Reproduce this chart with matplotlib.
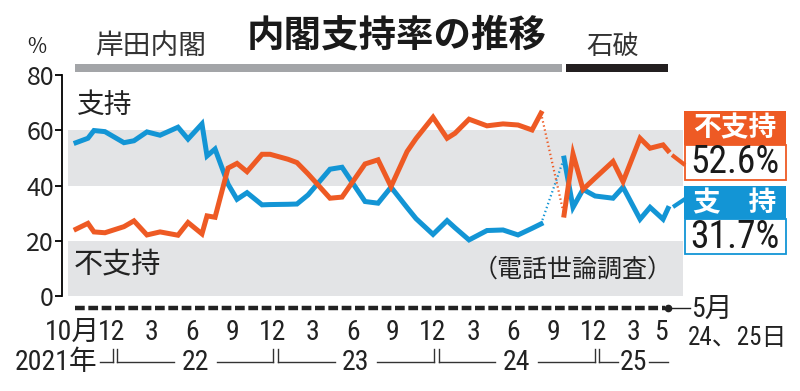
import os
import matplotlib
matplotlib.use("Agg")
import matplotlib.pyplot as plt
from matplotlib import font_manager
from matplotlib.transforms import blended_transform_factory
from matplotlib.patches import Rectangle
from matplotlib.lines import Line2D

plt.rcParams['font.family'] = ['Noto Sans CJK JP', 'DejaVu Sans']
plt.rcParams['lines.scale_dashes'] = False

# look for a condensed font for the digits
pref = ['liberationsansnarrow-regular', 'robotocondensed-regular', 'dejavusanscondensed.',
        'opensans_condensed-regular', 'notosans-condensed.', 'notosans-condensed']
entries = font_manager.fontManager.ttflist
narrow = None
for p in pref:
    for f in entries:
        if os.path.basename(f.fname).lower().startswith(p):
            narrow = f
            break
    if narrow:
        break

if narrow is not None:
    NFAM = [narrow.name, 'Noto Sans CJK JP']
    NST = narrow.stretch
    NS = 1.0
else:
    NFAM = ['Noto Sans CJK JP', 'DejaVu Sans']
    NST = 'normal'
    NS = 0.87

# ---- data (x = months since Oct 2021) ----
months = [-0.67, 0.22, 0.67, 1.49, 2.91, 3.66, 4.63, 5.61, 6.95, 7.70,
          8.74, 9.12, 9.72, 10.69, 11.36, 12.11, 13.23, 13.83, 15.17, 15.84,
          16.67, 18.31, 19.21, 20.93, 21.90, 22.87, 24.07, 24.74, 26.01, 27.06,
          27.65, 28.70, 30.04, 31.24, 32.36, 33.41, 34.08,
          35.80, 36.47, 37.22, 38.12, 39.46, 40.21, 41.48, 42.23, 43.20, 43.57]
support = [55.5, 57.1, 59.9, 59.5, 55.5, 56.2, 59.4, 58.2, 61.1, 56.8,
           62.3, 50.7, 53.2, 40.5, 35.0, 37.4, 33.0, 33.1, 33.2, 33.3,
           36.6, 45.9, 46.6, 34.2, 33.6, 39.4, 32.0, 28.0, 22.3, 27.3,
           24.7, 20.3, 23.7, 23.9, 22.1, 24.5, 26.1,
           49.9, 32.1, 38.6, 36.2, 35.4, 39.4, 27.8, 32.1, 27.8, 31.7]
disapprove = [24.2, 26.3, 23.2, 22.9, 25.1, 27.2, 22.1, 23.2, 22.0, 26.6,
              22.5, 29.0, 28.5, 46.3, 48.0, 45.0, 51.3, 51.3, 49.5, 48.3,
              44.2, 35.4, 35.8, 47.8, 49.3, 39.6, 52.3, 57.0, 64.7, 57.1,
              58.9, 64.0, 61.6, 62.3, 61.9, 60.1, 66.2,
              29.3, 51.4, 38.6, 42.7, 48.7, 41.4, 57.1, 53.5, 54.7, 52.6]
n_kishida = 37  # first Ishiba poll index

tick_pos = [2, 5, 8, 11, 14, 17, 20, 23, 26, 29, 32, 35, 38, 41, 43]
tick_lab = ['12', '3', '6', '9', '12', '3', '6', '9', '12', '3', '6', '9', '12', '3', '5']
year_bounds = [2.25, 14.25, 26.25, 38.25]
year_labels = ['22', '23', '24', '25']

BLUE = '#1395d5'
RED = '#ee5a24'
BAND = '#e3e4e6'
TXT = '#222222'

W, H = 800, 391
fig = plt.figure(figsize=(8, 3.91), dpi=100)

def fx(px):
    return px / W

def fy(py):
    return 1 - py / H

def ntext(x, y, s, size, transform=None, **kw):
    kw.setdefault('color', TXT)
    kw.setdefault('va', 'center')
    if transform is None:
        transform = fig.transFigure
    return fig.text(x, y, s, fontsize=size * NS, family=NFAM, stretch=NST,
                    transform=transform, **kw)

ax = fig.add_axes([fx(68), fy(296), 615 / W, 221 / H])
ax.set_xlim(-1.27, 44.69)
ax.set_ylim(0, 80)
ax.axhspan(0, 20, color=BAND, lw=0, zorder=0)
ax.axhspan(40, 60, color=BAND, lw=0, zorder=0)
for s in ['top', 'right', 'bottom']:
    ax.spines[s].set_visible(False)
ax.spines['left'].set_position(('outward', 4))
ax.spines['left'].set_linewidth(1.3)
ax.set_xticks([])
ax.set_yticks([0, 20, 40, 60, 80])
ax.tick_params(axis='y', direction='out', length=5, width=1.3, pad=1,
               labelsize=18, labelcolor=TXT)

k = n_kishida
lw = 3.6
ax.plot(months[:k], support[:k], color=BLUE, lw=lw, solid_joinstyle='miter', zorder=3)
ax.plot(months[:k], disapprove[:k], color=RED, lw=lw, solid_joinstyle='miter', zorder=3)
ax.plot(months[k:], support[k:], color=BLUE, lw=lw, solid_joinstyle='miter', zorder=3)
ax.plot(months[k:], disapprove[k:], color=RED, lw=lw, solid_joinstyle='miter', zorder=4)
ax.plot(months[k - 1:k + 1], support[k - 1:k + 1], color=BLUE, lw=1.6, ls=(0, (1, 2)), zorder=3)
ax.plot(months[k - 1:k + 1], disapprove[k - 1:k + 1], color=RED, lw=1.6, ls=(0, (1, 2)), zorder=3)

# x axis (dashed month line)
bt = blended_transform_factory(ax.transData, fig.transFigure)
ax.add_line(Line2D([-0.75, 42.95], [fy(308), fy(308)], transform=bt, color=TXT,
                   lw=3.2, dashes=(7.0, 2.6), clip_on=False))
ax.add_line(Line2D([43.15, 43.35], [fy(308), fy(308)], transform=bt, color=TXT,
                   lw=3.2, clip_on=False, solid_capstyle='butt'))
ax.plot([months[-1]], [fy(308)], 'o', color=TXT, ms=4.5, transform=bt, clip_on=False)
ax.add_line(Line2D([months[-1], 45.2], [fy(308), fy(308)], transform=bt, color=TXT,
                   lw=1.0, clip_on=False))
ntext(fx(691), fy(309), '5月', 20, ha='left')
ntext(fx(688), fy(338), '24、25日', 18, ha='left')

for p, l in zip(tick_pos, tick_lab):
    ntext(p, fy(332), l, 20, transform=bt, ha='center')
ntext(fx(100), fy(332), '10月', 20, ha='right')

# year brackets
ylin, ytop = fy(362), fy(349)
lc = '#333333'
ntext(fx(97), fy(362), '2021年', 20, ha='right')
ax.add_line(Line2D([1.15, year_bounds[0] - 0.17], [ylin, ylin], transform=bt, color=lc, lw=1, clip_on=False))
ends = year_bounds[1:] + [43.6]
for i, (b, lab) in enumerate(zip(year_bounds, year_labels)):
    e = ends[i]
    ax.add_line(Line2D([b - 0.17, b - 0.17], [ylin, ytop], transform=bt, color=lc, lw=1, clip_on=False))
    ax.add_line(Line2D([b + 0.17, b + 0.17], [ylin, ytop], transform=bt, color=lc, lw=1, clip_on=False))
    mid = (b + e) / 2 if i < 3 else 41.0
    half = 1.6 if i < 3 else 1.15
    ax.add_line(Line2D([b + 0.17, mid - half], [ylin, ylin], transform=bt, color=lc, lw=1, clip_on=False))
    ax.add_line(Line2D([mid + half, e - 0.17 if i < 3 else e], [ylin, ylin], transform=bt, color=lc, lw=1, clip_on=False))
    ntext(mid, fy(363), lab, 20, transform=bt, ha='center')

# labels on chart
fig.text(fx(77), fy(105), '支持', fontsize=20, va='center', ha='left', color=TXT)
fig.text(fx(74), fy(265), '不支持', fontsize=21, va='center', ha='left', color=TXT)
fig.text(fx(573), fy(270), '（電話世論調査）', fontsize=18, va='center', ha='center', color=TXT)

# header
fig.text(fx(397), fy(35), '内閣支持率の推移', fontsize=27, fontweight='bold', ha='center',
         va='center', color='#1a1a1a')
fig.text(fx(37), fy(47), '%', fontsize=15, ha='center', va='center', color=TXT)
fig.text(fx(151), fy(46), '岸田内閣', fontsize=20, ha='center', va='center', color='#333333')
fig.text(fx(613), fy(46), '石破', fontsize=19, ha='center', va='center', color='#333333')
fig.add_artist(Rectangle((fx(75), fy(72)), (562 - 75) / W, 8 / H, transform=fig.transFigure,
                         color='#a3a5a8', lw=0))
fig.add_artist(Rectangle((fx(566), fy(72)), (668 - 566) / W, 8 / H, transform=fig.transFigure,
                         color='#231f20', lw=0))

# right-side boxes
def box(x0, y0, x1, y1, fc, ec, lwb=0):
    fig.add_artist(Rectangle((fx(x0), fy(y1)), (x1 - x0) / W, (y1 - y0) / H,
                             transform=fig.transFigure, facecolor=fc, edgecolor=ec, lw=lwb))

box(684, 111, 786, 145, RED, RED)
box(684.5, 145, 785.5, 180, 'white', RED, 1.3)
box(684, 186, 786, 219, BLUE, BLUE)
box(684.5, 219, 785.5, 254, 'white', BLUE, 1.3)
fig.text(fx(735), fy(128), '不支持', fontsize=20, fontweight='bold', color='white',
         ha='center', va='center')
fig.text(fx(735), fy(203), '支　持', fontsize=20, fontweight='bold', color='white',
         ha='center', va='center')
ntext(fx(735), fy(163), f'{disapprove[-1]:.1f}%', 27 if narrow is not None else 26,
      color='#1a1a1a', ha='center')
ntext(fx(735), fy(237), f'{support[-1]:.1f}%', 27 if narrow is not None else 26,
      color='#1a1a1a', ha='center')

# pointers
fig.add_artist(Line2D([fx(672), fx(685)], [fy(155), fy(165)], color=RED, lw=3, solid_capstyle='butt'))
fig.add_artist(Line2D([fx(673), fx(685)], [fy(207), fy(199)], color=BLUE, lw=3, solid_capstyle='butt'))

fig.savefig('out.png', dpi=100)
